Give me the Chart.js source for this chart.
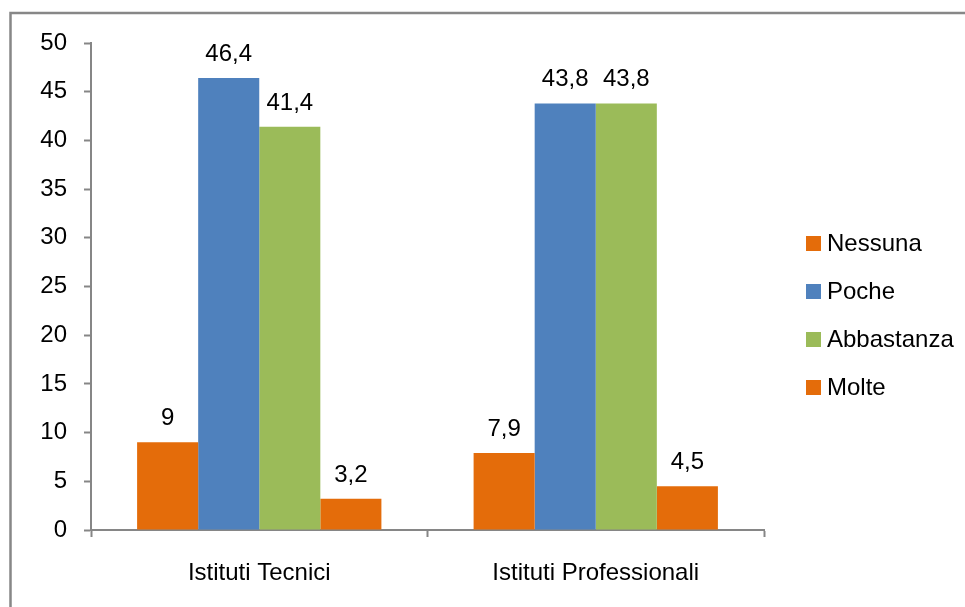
<!DOCTYPE html>
<html>
<head>
<meta charset="utf-8">
<script src="https://cdn.jsdelivr.net/npm/chart.js@4/dist/chart.umd.min.js"></script>
<style>
html,body{margin:0;padding:0;background:#fff;}
#wrap{position:relative;width:965px;height:607px;overflow:hidden;}
canvas{display:block;}
</style>
</head>
<body>
<div id="wrap"><canvas id="c" width="965" height="607"></canvas></div>
<script>
const categories = ["Istituti Tecnici", "Istituti Professionali"];
const seriesNames = ["Nessuna", "Poche", "Abbastanza", "Molte"];
const nessuna = [9, 7.9];
const poche = [46.4, 43.8];
const abbastanza = [41.4, 43.8];
const molte = [3.2, 4.5];
const yTicks = [0, 5, 10, 15, 20, 25, 30, 35, 40, 45, 50];
const colors = ["#E46C0A", "#4F81BD", "#9BBB59", "#E46C0A"];

const FONT = "'Liberation Sans', Arial, sans-serif";
const FS = 24;
const AXIS = "#868686";

const frame = {
  id: 'frame',
  beforeDraw(chart) {
    const ctx = chart.ctx;
    ctx.save();
    ctx.fillStyle = '#fff';
    ctx.fillRect(0, 0, chart.width, chart.height);
    ctx.strokeStyle = '#878787';
    ctx.lineWidth = 2.5;
    ctx.strokeRect(10.5, 13, 1200, 900);
    ctx.restore();
  }
};

const dataLabels = {
  id: 'dataLabels',
  afterDatasetsDraw(chart) {
    const ctx = chart.ctx;
    ctx.save();
    ctx.font = FS + "px " + FONT;
    ctx.fillStyle = '#000';
    ctx.textAlign = 'center';
    ctx.textBaseline = 'alphabetic';
    chart.data.datasets.forEach((ds, di) => {
      const meta = chart.getDatasetMeta(di);
      meta.data.forEach((el, i) => {
        const txt = String(ds.data[i]).replace('.', ',');
        ctx.fillText(txt, el.x, el.y - 17);
      });
    });
    ctx.restore();
  }
};

const sideLegend = {
  id: 'sideLegend',
  afterDraw(chart) {
    const ctx = chart.ctx;
    ctx.save();
    ctx.font = FS + "px " + FONT;
    ctx.textBaseline = 'middle';
    ctx.textAlign = 'left';
    chart.data.datasets.forEach((ds, i) => {
      const cy = 243.5 + i * 48;
      ctx.fillStyle = ds.backgroundColor;
      ctx.fillRect(806, cy - 7.5, 15, 15);
      ctx.fillStyle = '#000';
      ctx.fillText(ds.label, 827, cy + 1);
    });
    ctx.restore();
  }
};

const seriesData = [nessuna, poche, abbastanza, molte];

new Chart(document.getElementById('c'), {
  type: 'bar',
  data: {
    labels: categories,
    datasets: seriesNames.map((n, i) => ({
      label: n,
      data: seriesData[i],
      backgroundColor: colors[i],
      borderWidth: 0,
      barPercentage: 1.0,
      categoryPercentage: 0.726
    }))
  },
  options: {
    responsive: false,
    animation: false,
    devicePixelRatio: 1,
    layout: { padding: { left: 0, top: 43, right: 201, bottom: 0 } },
    plugins: {
      legend: { display: false },
      tooltip: { enabled: false }
    },
    scales: {
      x: {
        afterFit(s) { s.height = 77; },
        grid: { display: true, drawOnChartArea: false, drawTicks: true, tickLength: 7, tickWidth: 2, color: AXIS, offset: true },
        border: { display: true, color: AXIS, width: 2 },
        ticks: { color: '#000', font: { family: FONT, size: FS }, padding: 22 }
      },
      y: {
        min: 0, max: 50,
        afterFit(s) { s.width = 91; },
        afterBuildTicks(s) { s.ticks = yTicks.map(v => ({ value: v })); },
        grid: { display: true, drawOnChartArea: false, drawTicks: true, tickLength: 7, tickWidth: 2, color: AXIS },
        border: { display: true, color: AXIS, width: 2 },
        ticks: { color: '#000', font: { family: FONT, size: FS }, padding: 17 }
      }
    }
  },
  plugins: [frame, dataLabels, sideLegend]
});
</script>
</body>
</html>
